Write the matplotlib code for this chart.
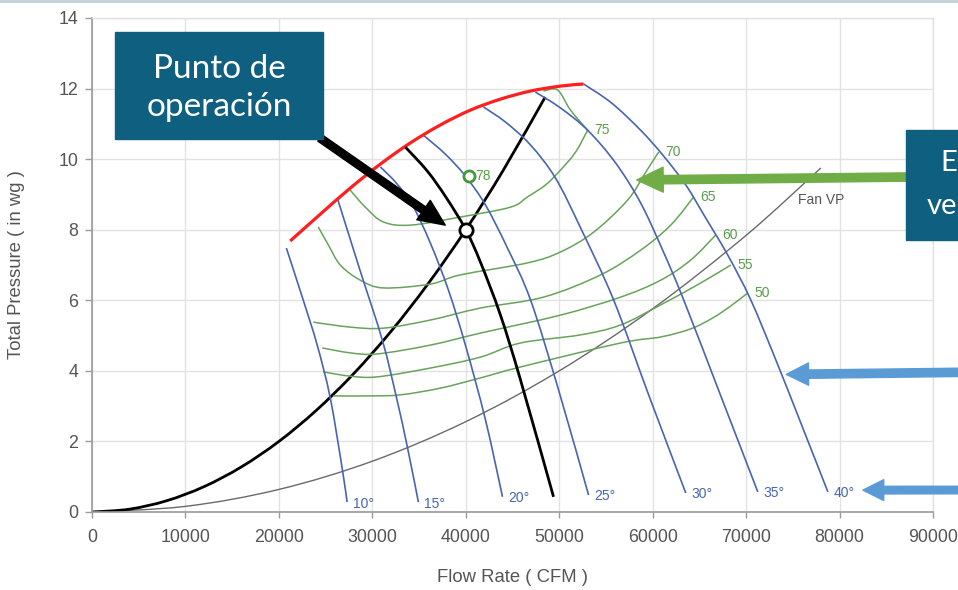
import matplotlib
matplotlib.use("Agg")
import matplotlib.pyplot as plt
from matplotlib.patches import Rectangle, PathPatch
from matplotlib.path import Path
from matplotlib.lines import Line2D

# ---------------- data ----------------
flow_ticks = [0, 10000, 20000, 30000, 40000, 50000, 60000, 70000, 80000, 90000]
pressure_ticks = [0, 2, 4, 6, 8, 10, 12, 14]

# surge limit
surge_q = [21210, 24430, 27640, 30860, 34070, 37290, 40500, 43710, 46930, 50140, 52610]
surge_p = [7.68, 8.44, 9.18, 9.86, 10.46, 10.97, 11.39, 11.70, 11.93, 12.07, 12.13]

# blade-angle pressure curves
blade10_q = [20800, 22600, 24100, 25500, 26800, 27300]
blade10_p = [7.48, 6.01, 4.73, 3.23, 1.19, 0.28]
blade15_q = [26250, 28610, 31070, 32570, 33750, 34930]
blade15_p = [8.90, 6.91, 4.87, 3.26, 1.84, 0.28]
blade20_q = [30860, 32570, 34290, 36210, 38140, 39960, 42110, 43930]
blade20_p = [9.78, 9.32, 8.70, 7.62, 6.29, 4.73, 2.61, 0.43]
blade25_q = [35460, 37820, 39960, 42110, 44460, 46930, 49930, 53140]
blade25_p = [10.68, 10.14, 9.52, 8.70, 7.48, 6.01, 3.46, 0.48]
blade30_q = [41890, 44250, 46930, 49610, 52290, 55820, 59570, 63540]
blade30_p = [11.48, 11.05, 10.40, 9.46, 8.05, 6.01, 3.32, 0.54]
blade35_q = [47460, 50140, 53040, 56040, 58710, 61070, 63320, 67290, 71250]
blade35_p = [11.90, 11.45, 10.82, 9.89, 8.76, 7.42, 6.01, 3.29, 0.57]
blade40_q = [52610, 55610, 58710, 61070, 63540, 65680, 68040, 70500, 73180, 75860, 78750]
blade40_p = [12.13, 11.59, 10.82, 10.12, 9.27, 8.33, 7.28, 6.01, 4.31, 2.52, 0.57]
blade_labels = ["10°", "15°", "20°", "25°", "30°", "35°", "40°"]

# efficiency contours (%)
eff75_q = [27640, 29250, 31180, 34070, 39430, 44790, 46610, 48540, 50140, 51750, 53040, 51210, 49820, 48320]
eff75_p = [9.12, 8.64, 8.22, 8.13, 8.36, 8.64, 8.93, 9.27, 9.69, 10.20, 10.82, 11.39, 11.96, 11.93]
eff70_q = [24210, 25290, 26570, 28710, 31180, 36210, 39430, 46610, 50140, 53680, 57320, 59250, 60640]
eff70_p = [8.08, 7.57, 7.00, 6.57, 6.35, 6.46, 6.72, 7.06, 7.37, 7.93, 8.84, 9.63, 10.20]
eff65_q = [23680, 27640, 31180, 36210, 41570, 48320, 54430, 58710, 61930, 64390]
eff65_p = [5.38, 5.24, 5.21, 5.44, 5.78, 6.09, 6.72, 7.42, 8.13, 8.93]
eff60_q = [24640, 27640, 30540, 36210, 41570, 50140, 56570, 60860, 64070, 66750]
eff60_p = [4.65, 4.51, 4.48, 4.73, 5.07, 5.58, 6.09, 6.57, 7.14, 7.85]
eff55_q = [24750, 27640, 30540, 36210, 41570, 45860, 52290, 56570, 60860, 65140, 68360]
eff55_p = [3.97, 3.85, 3.83, 4.08, 4.39, 4.79, 5.02, 5.30, 5.87, 6.49, 7.00]
eff50_q = [25820, 29790, 33000, 37290, 41570, 45860, 56570, 60860, 64070, 66430, 68360, 70180]
eff50_p = [3.29, 3.29, 3.32, 3.51, 3.80, 4.11, 4.79, 4.96, 5.19, 5.50, 5.84, 6.21]
eff_labels = ["75", "70", "65", "60", "55", "50"]

# peak efficiency point
peak_q, peak_p, peak_label = 40390, 9.52, "78"

# selected fan curve and system curve
fan_q = [33540, 35890, 37930, 40000, 41570, 43710, 45860, 49390]
fan_p = [10.34, 9.66, 8.90, 8.00, 7.08, 5.58, 3.74, 0.43]
system_q = [0, 4000, 8000, 12000, 16000, 20000, 24000, 28000, 32000, 36000, 40000, 44000, 48500]
system_p = [0, 0.08, 0.32, 0.72, 1.28, 2.00, 2.88, 3.92, 5.12, 6.48, 8.00, 9.68, 11.76]

# fan velocity pressure
vp_q = [0, 10000, 20000, 30000, 40000, 50000, 60000, 70000, 78000]
vp_p = [0, 0.16, 0.64, 1.44, 2.56, 4.00, 5.76, 7.84, 9.75]

# operating point
op_q, op_p = 40000, 8.0

# ---------------- style ----------------
W, H = 958, 590
BLUE = "#4864b2"
GREEN = "#68a35c"
GREEN_TXT = "#5a9e4c"
RED = "#ff1f1f"
GRID = "#e2e2e2"
AXIS = "#9a9a9a"
TXT = "#555555"
BOX = "#0f5f80"
ARROW_GREEN = "#70ad47"
ARROW_BLUE = "#5b9bd5"
BOX_FONT = ["Lato", "DejaVu Sans"]

plt.rcParams["font.family"] = ["Liberation Sans", "DejaVu Sans"]


def spline_path(q, p):
    """Catmull-Rom curve through the given points, as cubic Bezier segments."""
    pts = list(zip(q, p))
    n = len(pts)
    verts, codes = [pts[0]], [Path.MOVETO]
    for i in range(n - 1):
        p0 = pts[i - 1] if i > 0 else pts[i]
        p1, p2 = pts[i], pts[i + 1]
        p3 = pts[i + 2] if i + 2 < n else pts[i + 1]
        c1 = (p1[0] + (p2[0] - p0[0]) / 6, p1[1] + (p2[1] - p0[1]) / 6)
        c2 = (p2[0] - (p3[0] - p1[0]) / 6, p2[1] - (p3[1] - p1[1]) / 6)
        verts += [c1, c2, p2]
        codes += [Path.CURVE4] * 3
    return Path(verts, codes)


def spline(ax, q, p, **kw):
    ax.add_patch(PathPatch(spline_path(q, p), fill=False, **kw))


fig = plt.figure(figsize=(W / 100, H / 100), dpi=100)
fig.patch.set_facecolor("white")
ax = fig.add_axes([92 / W, (H - 512) / H, (933 - 92) / W, (512 - 18) / H])

ax.set_xlim(0, 90000)
ax.set_ylim(0, 14)
ax.set_xticks(flow_ticks)
ax.set_yticks(pressure_ticks)
ax.set_xticklabels([str(t) for t in flow_ticks])
ax.set_yticklabels([str(t) for t in pressure_ticks])
ax.grid(True, color=GRID, lw=1.0)
ax.set_axisbelow(True)
for side in ("top", "right"):
    ax.spines[side].set_color(GRID)
    ax.spines[side].set_linewidth(1.0)
for side in ("left", "bottom"):
    ax.spines[side].set_color(AXIS)
    ax.spines[side].set_linewidth(1.2)
ax.tick_params(axis="y", length=5, width=1, color=AXIS, pad=5, labelsize=12.8, labelcolor=TXT)
ax.tick_params(axis="x", length=4, width=1, color=AXIS, pad=8, labelsize=12.8, labelcolor=TXT)

fig.text(512.5 / W, 1 - 578 / H, "Flow Rate ( CFM )", ha="center", va="center",
         fontsize=13.3, color=TXT)
fig.text(17 / W, 1 - 265 / H, "Total Pressure ( in wg )", ha="center", va="center",
         rotation=90, fontsize=13.3, color=TXT)

# velocity pressure and system curve
spline(ax, vp_q, vp_p, edgecolor="#6a6a6a", lw=1.0)
ax.text(75500, 8.85, "Fan VP", fontsize=10, color="#555555", va="center", ha="left")
spline(ax, system_q, system_p, edgecolor="black", lw=2.0)

# efficiency contours (each drawn up to and from its right-most corner)
eff_curves = [(eff75_q, eff75_p), (eff70_q, eff70_p), (eff65_q, eff65_p),
              (eff60_q, eff60_p), (eff55_q, eff55_p), (eff50_q, eff50_p)]
for (q, p), lab in zip(eff_curves, eff_labels):
    i = q.index(max(q))
    spline(ax, q[:i + 1], p[:i + 1], edgecolor=GREEN, lw=1.1)
    if i < len(q) - 1:
        spline(ax, q[i:], p[i:], edgecolor=GREEN, lw=1.1)
    ax.annotate(lab, (q[i], p[i]), xytext=(5, 0), textcoords="offset points",
                fontsize=10, color=GREEN_TXT, va="center", ha="left")

# blade-angle curves
blades = [(blade10_q, blade10_p), (blade15_q, blade15_p), (blade20_q, blade20_p),
          (blade25_q, blade25_p), (blade30_q, blade30_p), (blade35_q, blade35_p),
          (blade40_q, blade40_p)]
for (q, p), lab in zip(blades, blade_labels):
    spline(ax, q, p, edgecolor=BLUE, lw=1.2)
    ax.annotate(lab, (q[-1], p[-1]), xytext=(4, -1), textcoords="offset points",
                fontsize=10, color=BLUE, va="center", ha="left")

# surge limit and selected fan curve
spline(ax, surge_q, surge_p, edgecolor=RED, lw=2.3, capstyle="butt", zorder=3)
spline(ax, fan_q, fan_p, edgecolor="black", lw=2.0, zorder=3)

# peak efficiency marker
ax.plot([peak_q], [peak_p], "o", ms=8, mfc="white", mec="#3f9b35", mew=2.0, zorder=5)
ax.annotate(peak_label, (peak_q, peak_p), xytext=(4, 0), textcoords="offset points",
            fontsize=10, color=GREEN_TXT, va="center", ha="left")

# operating point
ax.plot([op_q], [op_p], "o", ms=9.5, mfc="white", mec="black", mew=2.0, zorder=6)

# ---------------- callouts ----------------
fig.add_artist(Rectangle((115 / W, 1 - 139 / H), 208 / W, 107 / H,
                         transform=fig.transFigure, color=BOX, zorder=4))
fig.text(219 / W, 1 - 88 / H, "Punto de\noperación", ha="center", va="center",
         fontsize=24, color="white", family=BOX_FONT, linespacing=1.3, zorder=5)

fig.add_artist(Rectangle((906 / W, 1 - 240 / H), 80 / W, 110 / H,
                         transform=fig.transFigure, color=BOX, zorder=4))
fig.text(940 / W, 1 - 163 / H, "E", ha="left", va="center",
         fontsize=21, color="white", family=BOX_FONT, zorder=5)
fig.text(927 / W, 1 - 206 / H, "ve", ha="left", va="center",
         fontsize=21, color="white", family=BOX_FONT, zorder=5)

ax.annotate("", xy=(37800, 8.13), xycoords="data",
            xytext=(320, H - 138), textcoords="figure pixels",
            arrowprops=dict(arrowstyle="simple,head_length=1.9,head_width=1.7,tail_width=0.55",
                            mutation_scale=10, color="black", shrinkA=0, shrinkB=0,
                            clip_on=False), zorder=7)
ax.annotate("", xy=(58300, 9.41), xycoords="data",
            xytext=(910, H - 177), textcoords="figure pixels",
            arrowprops=dict(arrowstyle="simple,head_length=1.9,head_width=1.8,tail_width=0.6",
                            mutation_scale=10, color=ARROW_GREEN, shrinkA=0, shrinkB=0,
                            clip_on=False), zorder=7)
ax.annotate("", xy=(74300, 3.9), xycoords="data",
            xytext=(990, H - 372), textcoords="figure pixels",
            arrowprops=dict(arrowstyle="simple,head_length=1.6,head_width=1.6,tail_width=0.6",
                            mutation_scale=10, color=ARROW_BLUE, shrinkA=0, shrinkB=0,
                            clip_on=False), zorder=7)
ax.annotate("", xy=(82500, 0.62), xycoords="data",
            xytext=(990, H - 490), textcoords="figure pixels",
            arrowprops=dict(arrowstyle="simple,head_length=1.5,head_width=1.5,tail_width=0.55",
                            mutation_scale=10, color=ARROW_BLUE, shrinkA=0, shrinkB=0,
                            clip_on=False), zorder=7)

# slide frame line along the top edge
fig.add_artist(Line2D([0, 1], [1 - 1 / H, 1 - 1 / H], transform=fig.transFigure,
                      color="#bdd0d8", lw=2))

fig.savefig("out.png", dpi=100)
